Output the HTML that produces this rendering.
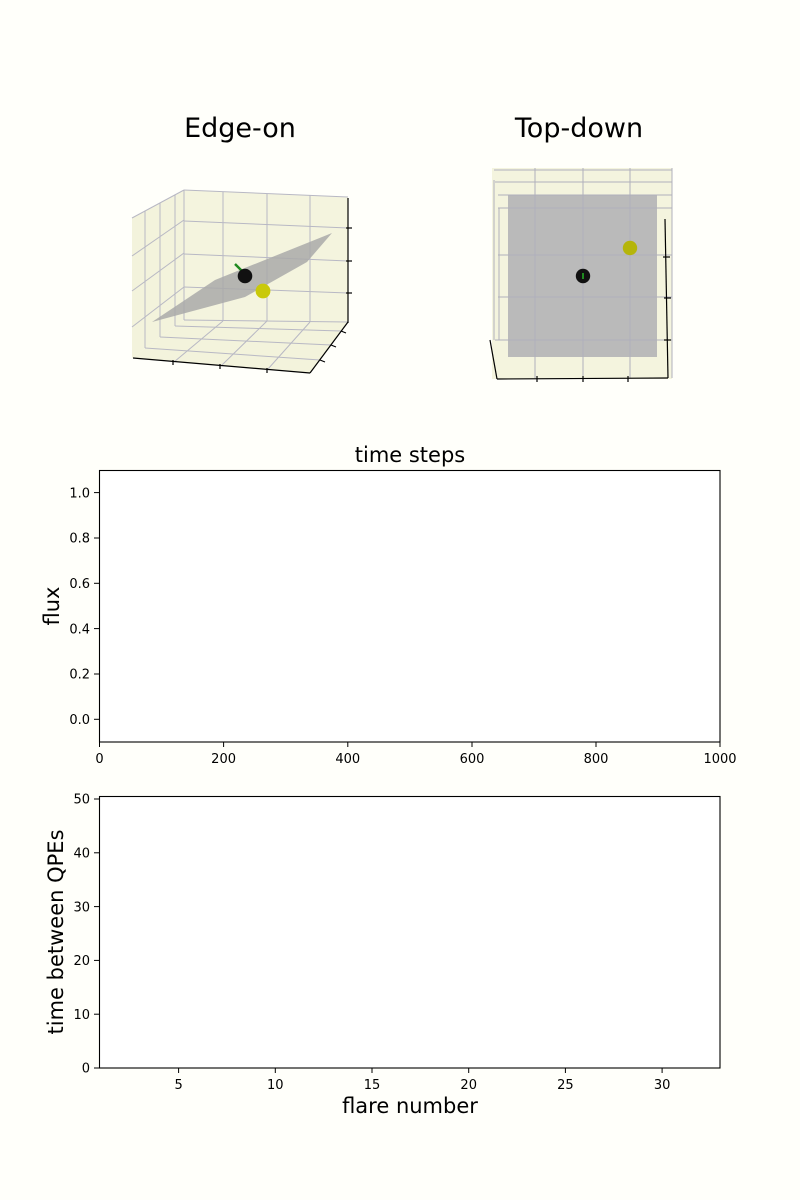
<!DOCTYPE html>
<html><head><meta charset="utf-8"><style>
html,body{margin:0;padding:0;background:#fff;}
svg{display:block;}
text{font-family:"DejaVu Sans","Liberation Sans",sans-serif;fill:#000;}
</style></head><body>
<svg width="800" height="1200" viewBox="0 0 800 1200" xmlns="http://www.w3.org/2000/svg">
<rect width="800" height="1200" fill="#fffffa"/>

<!-- Titles -->
<text x="240" y="137" font-size="27" text-anchor="middle">Edge-on</text>
<text x="579" y="137" font-size="27" text-anchor="middle">Top-down</text>

<!-- ===== Edge-on 3D ===== -->
<g>
  <polygon points="132,218 184,190 184,320 132,358" fill="#f3f3dc"/>
  <polygon points="184,190 348,197 348,322 184,320" fill="#f4f4de"/>
  <polygon points="132,358 184,320 348,322 310,373" fill="#f3f3dc"/>
  <g stroke="#b8b8c4" stroke-width="1" fill="none">
    <line x1="145" y1="211" x2="145" y2="348"/>
    <line x1="160" y1="203" x2="160" y2="337"/>
    <line x1="175" y1="195" x2="175" y2="326"/>
    <line x1="132" y1="256" x2="184" y2="220"/>
    <line x1="132" y1="291" x2="184" y2="253"/>
    <line x1="132" y1="327" x2="184" y2="287"/>
    <line x1="184" y1="221" x2="348" y2="228"/>
    <line x1="184" y1="254" x2="348" y2="261"/>
    <line x1="184" y1="287" x2="348" y2="293"/>
    <line x1="223" y1="192" x2="223" y2="321"/>
    <line x1="267" y1="194" x2="267" y2="321"/>
    <line x1="310" y1="195" x2="310" y2="322"/>
    <line x1="223" y1="321" x2="174" y2="362"/>
    <line x1="267" y1="321" x2="221" y2="366"/>
    <line x1="310" y1="322" x2="268" y2="369"/>
    <line x1="175" y1="326" x2="341" y2="331"/>
    <line x1="160" y1="337" x2="331" y2="345"/>
    <line x1="145" y1="348" x2="320" y2="360"/>
    <line x1="184" y1="190" x2="184" y2="320"/>
    <line x1="184" y1="320" x2="348" y2="322"/>
    <line x1="132" y1="218" x2="184" y2="190"/>
    <line x1="184" y1="190" x2="348" y2="197"/>
  </g>
  <polygon points="152,322 215,280 332,233 307,262 245,297" fill="#a9a9a9" fill-opacity="0.85"/>
  <g stroke="#000" stroke-width="1.2" fill="none">
    <line x1="348" y1="198" x2="348" y2="323"/>
    <line x1="346" y1="228" x2="352" y2="228"/>
    <line x1="346" y1="261" x2="352" y2="261"/>
    <line x1="346" y1="293" x2="352" y2="293"/>
    <line x1="133" y1="358" x2="310" y2="373"/>
    <line x1="173" y1="360" x2="173" y2="365"/>
    <line x1="220" y1="364" x2="220" y2="369"/>
    <line x1="267" y1="368" x2="267" y2="373"/>
    <line x1="310" y1="373" x2="348" y2="322"/>
    <line x1="341" y1="331" x2="346" y2="333"/>
    <line x1="331" y1="345" x2="336" y2="347"/>
    <line x1="320" y1="360" x2="325" y2="362"/>
  </g>
  <line x1="235" y1="264" x2="243" y2="272" stroke="#1f8a1f" stroke-width="2.5"/>
  <circle cx="245" cy="276" r="7.3" fill="#111"/>
  <circle cx="263" cy="291" r="7.4" fill="#c9c90a"/>
</g>

<!-- ===== Top-down 3D ===== -->
<g>
  <rect x="492" y="168" width="180" height="211" fill="#f4f4de"/>
  <rect x="508" y="195" width="149" height="162" fill="#bababa"/>
  <g stroke="#b0b0bc" stroke-width="1" fill="none">
    <line x1="494" y1="170" x2="672" y2="170"/>
    <line x1="495" y1="182" x2="672" y2="182"/>
    <line x1="498" y1="195" x2="672" y2="195"/>
    <line x1="498" y1="208" x2="672" y2="208"/>
    <line x1="498" y1="255" x2="672" y2="255"/>
    <line x1="498" y1="297" x2="672" y2="297"/>
    <line x1="495" y1="340" x2="672" y2="340"/>
    <line x1="535" y1="168" x2="535" y2="378"/>
    <line x1="583" y1="168" x2="583" y2="378"/>
    <line x1="630" y1="168" x2="630" y2="378"/>
    <line x1="494" y1="180" x2="494" y2="340"/>
    <line x1="499" y1="208" x2="499" y2="340"/>
    <line x1="672" y1="168" x2="672" y2="378"/>
  </g>
  <g stroke="#000" stroke-width="1.2" fill="none">
    <line x1="490" y1="340" x2="497" y2="379"/>
    <line x1="497" y1="379" x2="668" y2="378"/>
    <line x1="665" y1="219" x2="668" y2="378"/>
    <line x1="537" y1="376" x2="537" y2="382"/>
    <line x1="583" y1="376" x2="583" y2="382"/>
    <line x1="628" y1="376" x2="628" y2="382"/>
    <line x1="663" y1="257" x2="670" y2="257"/>
    <line x1="664" y1="298" x2="671" y2="298"/>
    <line x1="664" y1="340" x2="671" y2="340"/>
  </g>
  <circle cx="583" cy="276" r="7.2" fill="#111"/>
  <line x1="583" y1="273" x2="583" y2="279" stroke="#1f8a1f" stroke-width="2"/>
  <circle cx="630" cy="248" r="7.2" fill="#b5b50a"/>
</g>

<!-- ===== Middle axes (flux) ===== -->
<g>
  <rect x="99.5" y="470.5" width="620.5" height="271.5" fill="#fff" stroke="#000" stroke-width="1.1"/>
  <text x="410" y="462" font-size="21" text-anchor="middle">time steps</text>
  <g stroke="#000" stroke-width="1">
    <line x1="99.5" y1="742" x2="99.5" y2="747"/>
    <line x1="223.6" y1="742" x2="223.6" y2="747"/>
    <line x1="347.8" y1="742" x2="347.8" y2="747"/>
    <line x1="472" y1="742" x2="472" y2="747"/>
    <line x1="596" y1="742" x2="596" y2="747"/>
    <line x1="720" y1="742" x2="720" y2="747"/>
    <line x1="94" y1="719.3" x2="99.5" y2="719.3"/>
    <line x1="94" y1="674" x2="99.5" y2="674"/>
    <line x1="94" y1="628.6" x2="99.5" y2="628.6"/>
    <line x1="94" y1="583.3" x2="99.5" y2="583.3"/>
    <line x1="94" y1="538" x2="99.5" y2="538"/>
    <line x1="94" y1="492.6" x2="99.5" y2="492.6"/>
  </g>
  <g font-size="13" text-anchor="middle">
    <text x="99.5" y="763">0</text>
    <text x="223.6" y="763">200</text>
    <text x="347.8" y="763">400</text>
    <text x="472" y="763">600</text>
    <text x="596" y="763">800</text>
    <text x="720" y="763">1000</text>
  </g>
  <g font-size="13" text-anchor="end">
    <text x="90" y="724">0.0</text>
    <text x="90" y="678.7">0.2</text>
    <text x="90" y="633.3">0.4</text>
    <text x="90" y="588">0.6</text>
    <text x="90" y="542.7">0.8</text>
    <text x="90" y="497.3">1.0</text>
  </g>
  <text transform="translate(59,606) rotate(-90)" font-size="21" text-anchor="middle">flux</text>
</g>

<!-- ===== Bottom axes ===== -->
<g>
  <rect x="99.5" y="796.5" width="620.5" height="271.5" fill="#fff" stroke="#000" stroke-width="1.1"/>
  <g stroke="#000" stroke-width="1">
    <line x1="178.6" y1="1068" x2="178.6" y2="1073"/>
    <line x1="275.3" y1="1068" x2="275.3" y2="1073"/>
    <line x1="372" y1="1068" x2="372" y2="1073"/>
    <line x1="468.7" y1="1068" x2="468.7" y2="1073"/>
    <line x1="565.4" y1="1068" x2="565.4" y2="1073"/>
    <line x1="662.1" y1="1068" x2="662.1" y2="1073"/>
    <line x1="94" y1="1068" x2="99.5" y2="1068"/>
    <line x1="94" y1="1014.2" x2="99.5" y2="1014.2"/>
    <line x1="94" y1="960.4" x2="99.5" y2="960.4"/>
    <line x1="94" y1="906.6" x2="99.5" y2="906.6"/>
    <line x1="94" y1="852.8" x2="99.5" y2="852.8"/>
    <line x1="94" y1="799" x2="99.5" y2="799"/>
  </g>
  <g font-size="13" text-anchor="middle">
    <text x="178.6" y="1089">5</text>
    <text x="275.3" y="1089">10</text>
    <text x="372" y="1089">15</text>
    <text x="468.7" y="1089">20</text>
    <text x="565.4" y="1089">25</text>
    <text x="662.1" y="1089">30</text>
  </g>
  <g font-size="13" text-anchor="end">
    <text x="90" y="1072.7">0</text>
    <text x="90" y="1018.9">10</text>
    <text x="90" y="965.1">20</text>
    <text x="90" y="911.3">30</text>
    <text x="90" y="857.5">40</text>
    <text x="90" y="803.7">50</text>
  </g>
  <text x="410" y="1113" font-size="21" text-anchor="middle">flare number</text>
  <text transform="translate(63,932) rotate(-90)" font-size="21" text-anchor="middle">time between QPEs</text>
</g>
</svg>
</body></html>
